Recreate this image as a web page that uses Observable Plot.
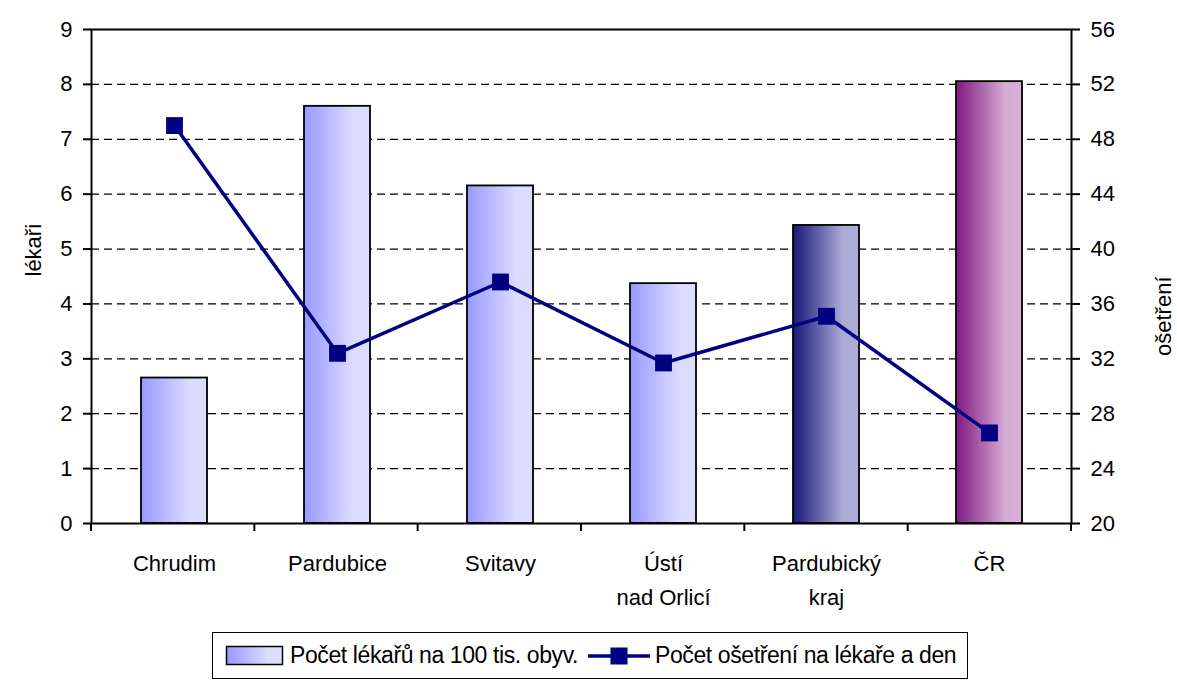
<!DOCTYPE html>
<html><head><meta charset="utf-8">
<script src="https://cdn.jsdelivr.net/npm/d3@7"></script>
<script src="https://cdn.jsdelivr.net/npm/@observablehq/plot@0.6"></script>
<style>
body{margin:0;background:#fff;font-family:"Liberation Sans",Arial,sans-serif;}
#wrap{position:relative;width:1177px;height:684px;overflow:hidden;}
#legend{position:absolute;left:212px;top:632px;width:756px;height:47px;border:1.5px solid #000;box-sizing:border-box;font-size:23px;color:#000;}
#legend .t{position:absolute;top:0;line-height:44px;letter-spacing:-0.4px;white-space:nowrap;}
#legend svg{position:absolute;top:0;}
</style></head><body><div id="wrap"><div id="chart"></div><div id="legend"></div></div>
<script>
const categories = ["Chrudim", "Pardubice", "Svitavy", "Ústí\nnad Orlicí", "Pardubický\nkraj", "ČR"];
const doctorsPer100k = [2.65, 7.6, 6.15, 4.37, 5.43, 8.05];
const treatmentsPerDoctorDay = [49.0, 32.4, 37.6, 31.7, 35.1, 26.6];
const barFills = ["url(#gBlue)", "url(#gBlue)", "url(#gBlue)", "url(#gBlue)", "url(#gNavy)", "url(#gPurple)"];
const leftTicks = [0, 1, 2, 3, 4, 5, 6, 7, 8, 9];
const rightTicks = [20, 24, 28, 32, 36, 40, 44, 48, 52, 56];
const seriesNames = ["Počet lékařů na 100 tis. obyv.", "Počet ošetření na lékaře a den"];

const rightMin = 20, rightMax = 56, leftMax = 9;
const toLeft = v => (v - rightMin) / (rightMax - rightMin) * leftMax;
const fromLeft = v => String(Math.round(rightMin + v / leftMax * (rightMax - rightMin)));

const data = categories.map((c, i) => ({cat: c, doc: doctorsPer100k[i], tr: treatmentsPerDoctorDay[i], fill: barFills[i]}));

const W = 1177, H = 620, ML = 91, MR = 106, MT = 29, MB = 97;
const font = 22;
const ff = '"Liberation Sans", Arial, sans-serif';

const boundaryTicks = (index, scales, values, dims) => {
  const g = d3.create("svg:g");
  const n = categories.length;
  const step = (dims.width - dims.marginLeft - dims.marginRight) / n;
  const y0 = dims.height - dims.marginBottom;
  for (let i = 0; i <= n; i++) {
    const x = dims.marginLeft + i * step;
    g.append("line").attr("x1", x).attr("x2", x).attr("y1", y0).attr("y2", y0 + 8)
      .attr("stroke", "#000").attr("stroke-width", 2);
  }
  return g.node();
};

const chart = Plot.plot({
  width: W, height: H,
  marginLeft: ML, marginRight: MR, marginTop: MT, marginBottom: MB,
  style: {fontFamily: ff, fontSize: font + "px", background: "#fff", color: "#000"},
  x: {domain: categories, paddingInner: 0.596, paddingOuter: 0.298, label: null},
  y: {domain: [0, leftMax], label: null},
  color: {type: "identity"},
  marks: [
    Plot.ruleY(leftTicks.filter(t => t > 0 && t < leftMax), {stroke: "#000", strokeWidth: 1.2, strokeDasharray: "8,5"}),
    Plot.barY(data, {x: "cat", y: "doc", fill: "fill", stroke: "#000", strokeWidth: 1.8}),
    Plot.line(data, {x: "cat", y: d => toLeft(d.tr), stroke: "#000080", strokeWidth: 3.5}),
    Plot.dot(data, {x: "cat", y: d => toLeft(d.tr), symbol: "square", r: 9.5, fill: "#000080", stroke: "none"}),
    Plot.frame({stroke: "#000", strokeWidth: 2}),
    Plot.axisY(leftTicks, {anchor: "left", tickSize: 8, tickPadding: 11, fontSize: font, label: null, strokeWidth: 2, tickFormat: d => String(d)}),
    Plot.axisY(rightTicks.map(toLeft), {anchor: "right", tickSize: 8, tickPadding: 11, fontSize: font, label: null, tickFormat: fromLeft, strokeWidth: 2}),
    Plot.axisX({anchor: "bottom", tickSize: 0, tickPadding: 23, fontSize: font, lineHeight: 1.55, label: null}),
    boundaryTicks,
    Plot.text(["lékaři"], {frameAnchor: "left", rotate: -90, dx: -58, fontSize: font}),
    Plot.text(["ošetření"], {frameAnchor: "right", rotate: -90, dx: 92, fontSize: font})
  ]
});

d3.select(chart).insert("defs", ":first-child").html(`
  <linearGradient id="gBlue" x1="0" x2="1" y1="0" y2="0">
    <stop offset="0" stop-color="#9999ff"/><stop offset="0.75" stop-color="#dcdcff"/><stop offset="1" stop-color="#dcdcff"/>
  </linearGradient>
  <linearGradient id="gNavy" x1="0" x2="1" y1="0" y2="0">
    <stop offset="0" stop-color="#161678"/><stop offset="0.75" stop-color="#aaaad6"/><stop offset="1" stop-color="#aeaed8"/>
  </linearGradient>
  <linearGradient id="gPurple" x1="0" x2="1" y1="0" y2="0">
    <stop offset="0" stop-color="#801880"/><stop offset="0.75" stop-color="#d6acd6"/><stop offset="1" stop-color="#d8b0d8"/>
  </linearGradient>`);

document.getElementById("chart").appendChild(chart);

const legend = document.getElementById("legend");
legend.innerHTML = `
  <svg width="60" height="45" style="left:12px">
    <defs><linearGradient id="gLeg" x1="0" x2="1"><stop offset="0" stop-color="#9999ff"/><stop offset="0.75" stop-color="#dcdcff"/><stop offset="1" stop-color="#dcdcff"/></linearGradient></defs>
    <rect x="1.5" y="13.5" width="56" height="18" fill="url(#gLeg)" stroke="#000" stroke-width="1.5"/>
  </svg>
  <span class="t" style="left:77px">${seriesNames[0]}</span>
  <svg width="66" height="45" style="left:374px">
    <line x1="1" x2="63" y1="23" y2="23" stroke="#000080" stroke-width="3.5"/>
    <rect x="23.5" y="14.5" width="17" height="17" fill="#000080"/>
  </svg>
  <span class="t" style="left:442px">${seriesNames[1]}</span>`;
</script></body></html>
